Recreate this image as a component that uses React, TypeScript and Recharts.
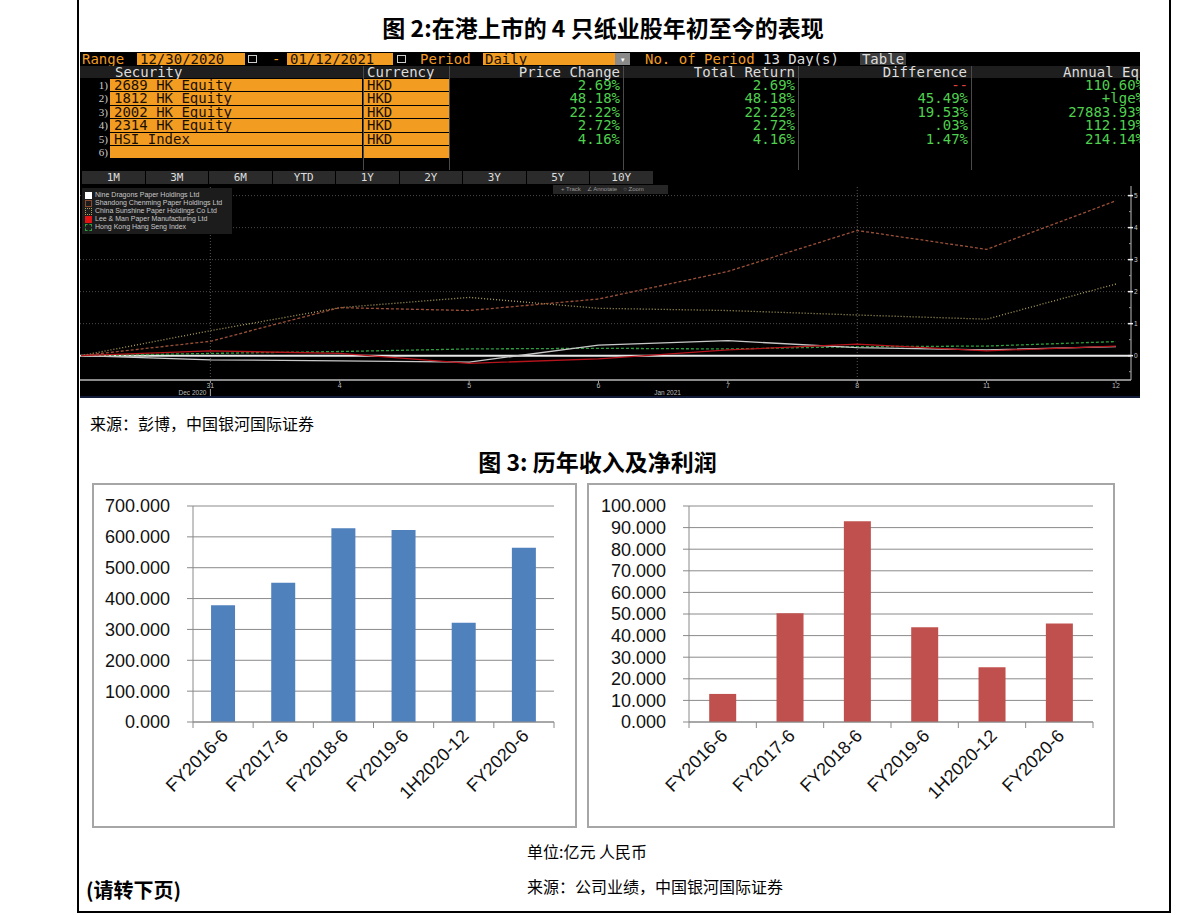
import React from 'react';
import { LineChart, Line, XAxis, YAxis, ReferenceLine, BarChart, Bar, CartesianGrid } from 'recharts';

// ---------- Figure 2 (Bloomberg) data ----------
const bbDates = ['30', '31', '4', '5', '6', '7', '8', '11', '12'];
const nineDragons = [0, -0.13, -0.16, -0.2, 0.33, 0.47, 0.25, 0.18, 0.28];
const shandongChenming = [0, 0.45, 1.5, 1.41, 1.77, 2.63, 3.91, 3.32, 4.84];
const chinaSunshine = [0, 0.78, 1.5, 1.82, 1.48, 1.41, 1.27, 1.14, 2.24];
const leeMan = [0, 0.15, 0.07, -0.24, -0.1, 0.18, 0.36, 0.15, 0.3];
const hangSeng = [0, 0.07, 0.13, 0.21, 0.23, 0.21, 0.28, 0.3, 0.44];
const seriesNames = [
  'Nine Dragons Paper Holdings Ltd',
  'Shandong Chenming Paper Holdings Ltd',
  'China Sunshine Paper Holdings Co Ltd',
  'Lee & Man Paper Manufacturing Ltd',
  'Hong Kong Hang Seng Index',
];
const bbYTicks = [-0.5, 0, 0.5, 1, 1.5, 2, 2.5, 3, 3.5, 4, 4.5, 5];
const bbGridValues = [1, 2, 3, 4, 5];

const securities = ['2689 HK Equity', '1812 HK Equity', '2002 HK Equity', '2314 HK Equity', 'HSI Index', ''];
const currencies = ['HKD', 'HKD', 'HKD', 'HKD', 'HKD', ''];
const priceChange = ['2.69%', '48.18%', '22.22%', '2.72%', '4.16%', ''];
const totalReturn = ['2.69%', '48.18%', '22.22%', '2.72%', '4.16%', ''];
const difference = ['--', '45.49%', '19.53%', '.03%', '1.47%', ''];
const annualEq = ['110.60%', '+lge%', '27883.93%', '112.19%', '214.14%', ''];
const periodTabs = ['1M', '3M', '6M', 'YTD', '1Y', '2Y', '3Y', '5Y', '10Y'];

// ---------- Figure 3 data ----------
const periods = ['FY2016-6', 'FY2017-6', 'FY2018-6', 'FY2019-6', '1H2020-12', 'FY2020-6'];
const revenue = [378, 451, 628, 622, 322, 565];
const netProfit = [13.0, 50.4, 92.9, 43.9, 25.4, 45.6];
const revenueTicks = [0, 100, 200, 300, 400, 500, 600, 700];
const profitTicks = [0, 10, 20, 30, 40, 50, 60, 70, 80, 90, 100];

const bbData = bbDates.map((d, i) => ({
  d,
  nd: nineDragons[i],
  sc: shandongChenming[i],
  cs: chinaSunshine[i],
  lm: leeMan[i],
  hsi: hangSeng[i],
}));
const revData = periods.map((p, i) => ({ p, v: revenue[i] }));
const profitData = periods.map((p, i) => ({ p, v: netProfit[i] }));

const MONO = '"DejaVu Sans Mono", monospace';
const ORANGE = '#f39c22';
const GREEN = '#4fd04f';
const CJK = '"Noto Sans CJK SC", sans-serif';

const BbXTick = (props: any) => {
  const { x, y, payload } = props;
  const v = payload.value;
  if (v === '30') return <g />;
  return (
    <g>
      <line x1={x} x2={x} y1={y} y2={y + 3} stroke="#999" />
      <text x={x} y={y + 8} textAnchor="middle" fontSize={7} fill="#bbb" fontFamily="Liberation Sans">{v}</text>
      {v === '31' && (
        <g>
          <text x={x - 4} y={y + 15} textAnchor="end" fontSize={6.5} fill="#bbb" fontFamily="Liberation Sans">Dec 2020</text>
          <line x1={x} x2={x} y1={y + 9} y2={y + 17} stroke="#aaa" />
        </g>
      )}
      {v === '6' && (
        <text x={x + 69} y={y + 15} textAnchor="middle" fontSize={6.5} fill="#bbb" fontFamily="Liberation Sans">Jan 2021</text>
      )}
    </g>
  );
};

const BbYTick = (props: any) => {
  const { x, y, payload } = props;
  const v = payload.value;
  const major = Number.isInteger(v);
  return (
    <g>
      {major ? (
        <g>
          <line x1={x - 3} x2={x + 2} y1={y} y2={y} stroke="#eee" strokeWidth={1.5} />
          <text x={x + 3} y={y} dy="0.35em" fontSize={6.5} fill="#ccc" fontFamily="Liberation Sans">{v}</text>
        </g>
      ) : (
        <line x1={x - 2} x2={x} y1={y} y2={y} stroke="#999" />
      )}
    </g>
  );
};

const BarXTick = (props: any) => {
  const { x, y, payload, index } = props;
  const off = payload && payload.offset ? payload.offset : 0;
  const tx = x + 6;
  const ty = y + 15;
  return (
    <g>
      <line x1={x - off} x2={x - off} y1={y} y2={y + 6} stroke="#8a8a8a" />
      {index === periods.length - 1 && <line x1={x + off} x2={x + off} y1={y} y2={y + 6} stroke="#8a8a8a" />}
      <text x={tx} y={ty} textAnchor="end" transform={`rotate(-45, ${tx}, ${ty})`} fontSize={18} fontFamily="Liberation Sans" fill="#111">
        {payload.value}
      </text>
    </g>
  );
};

const abs = (l: number, t: number, w?: number, h?: number): React.CSSProperties => ({
  position: 'absolute',
  left: l,
  top: t,
  width: w,
  height: h,
});

const cellText: React.CSSProperties = {
  fontFamily: MONO,
  fontSize: 14,
  lineHeight: '12px',
  whiteSpace: 'nowrap',
};

function BloombergPanel() {
  const rowTop = (i: number) => 27 + i * 13.4;
  const numCols = [
    { l: 371, w: 171, vals: priceChange },
    { l: 544, w: 173, vals: totalReturn },
    { l: 719, w: 171, vals: difference },
    { l: 892, w: 174, vals: annualEq },
  ];
  const seps = [369, 543, 718, 891];
  const legendMarks = [
    { bg: '#fff', border: '1px solid #fff' },
    { bg: 'transparent', border: '1px solid #8c4a30' },
    { bg: 'transparent', border: '1px dotted #b0a25a' },
    { bg: '#e01414', border: '1px solid #e01414' },
    { bg: 'transparent', border: '1px dashed #2f9e3f' },
  ];
  return (
    <div style={{ ...abs(80, 52, 1060, 346), background: '#000', overflow: 'hidden' }}>
      {/* top bar */}
      <div style={{ ...abs(2, 1), ...cellText, color: ORANGE }}>Range</div>
      <div style={{ ...abs(57, 1, 108, 12), background: ORANGE, ...cellText, color: '#1a1000', paddingLeft: 3, boxSizing: 'border-box' }}>12/30/2020</div>
      <div style={{ ...abs(168, 3, 9, 8), border: '1px solid #ccc', boxSizing: 'border-box' }} />
      <div style={{ ...abs(192, 1), ...cellText, color: ORANGE }}>-</div>
      <div style={{ ...abs(207, 1, 106, 12), background: ORANGE, ...cellText, color: '#1a1000', paddingLeft: 3, boxSizing: 'border-box' }}>01/12/2021</div>
      <div style={{ ...abs(317, 3, 9, 8), border: '1px solid #ccc', boxSizing: 'border-box' }} />
      <div style={{ ...abs(340, 1), ...cellText, color: ORANGE }}>Period</div>
      <div style={{ ...abs(403, 1, 132, 12), background: ORANGE, ...cellText, color: '#1a1000', paddingLeft: 2, boxSizing: 'border-box' }}>Daily</div>
      <div style={{ ...abs(535, 1, 15, 12), background: '#8a8a8a', color: '#fff', fontSize: 7, textAlign: 'center', lineHeight: '12px' }}>▾</div>
      <div style={{ ...abs(565, 1), ...cellText, color: ORANGE }}>No. of Period</div>
      <div style={{ ...abs(683, 1), ...cellText, color: '#ddd' }}>13 Day(s)</div>
      <div style={{ ...abs(780, 1, 46, 12), background: '#3c3c3c', ...cellText, color: '#ddd', textAlign: 'center' }}>Table</div>

      {/* header row */}
      <div style={{ ...abs(0, 14, 1060, 12), background: '#1e1e1e' }} />
      <div style={{ ...abs(35, 14), ...cellText, color: '#ddd' }}>Security</div>
      <div style={{ ...abs(287, 14), ...cellText, color: '#ddd' }}>Currency</div>
      <div style={{ ...abs(371, 14, 169), ...cellText, color: '#ddd', textAlign: 'right' }}>Price Change</div>
      <div style={{ ...abs(544, 14, 171), ...cellText, color: '#ddd', textAlign: 'right' }}>Total Return</div>
      <div style={{ ...abs(719, 14, 168), ...cellText, color: '#ddd', textAlign: 'right' }}>Difference</div>
      <div style={{ ...abs(983, 14), ...cellText, color: '#ddd' }}>Annual Eq %</div>
      {seps.map((s, i) => (
        <div key={i} style={{ ...abs(s, 14, 1, 104), background: '#4a4a4a' }} />
      ))}
      <div style={{ ...abs(283, 14, 1, 104), background: '#4a4a4a' }} />

      {/* rows */}
      {securities.map((s, i) => (
        <React.Fragment key={i}>
          <div style={{ ...abs(8, rowTop(i), 20, 12), fontFamily: 'Liberation Serif', fontSize: 11, color: '#ccc', textAlign: 'right', lineHeight: '12px' }}>{i + 1})</div>
          <div style={{ ...abs(30, rowTop(i), 252, 12.4), background: ORANGE, ...cellText, color: '#1a1000', paddingLeft: 4, boxSizing: 'border-box' }}>{s}</div>
          <div style={{ ...abs(284, rowTop(i), 85, 12.4), background: ORANGE, ...cellText, color: '#1a1000', paddingLeft: 3, boxSizing: 'border-box' }}>{currencies[i]}</div>
          {numCols.map((c, j) => (
            <div key={j} style={{ ...abs(c.l, rowTop(i), c.w - 2), ...cellText, color: c.vals[i] === '--' ? '#e04040' : GREEN, textAlign: 'right' }}>
              {c.vals[i]}
            </div>
          ))}
        </React.Fragment>
      ))}

      {/* period tabs */}
      {periodTabs.map((t, i) => (
        <div key={t} style={{ ...abs(2 + i * 63.5, 119, 62.5, 13), background: '#2b2b2b', color: '#ddd', fontFamily: MONO, fontSize: 11, lineHeight: '13px', textAlign: 'center' }}>{t}</div>
      ))}

      {/* chart */}
      <div style={abs(0, 133, 1060, 212)}>
        <LineChart width={1060} height={212} data={bbData} margin={{ top: 1, right: 0, bottom: 0, left: 0 }}>
          <XAxis
            dataKey="d"
            height={17}
            interval={0}
            padding={{ left: 1, right: 15 }}
            axisLine={{ stroke: '#8a8a8a', strokeWidth: 2 }}
            tickLine={false}
            tickSize={0}
            tickMargin={0}
            tick={(p: any) => <BbXTick {...p} />}
          />
          <YAxis
            orientation="right"
            width={9}
            type="number"
            domain={[-0.76, 5.3]}
            ticks={bbYTicks}
            interval={0}
            allowDataOverflow
            axisLine={{ stroke: '#bbb' }}
            tickLine={false}
            tickSize={0}
            tickMargin={0}
            tick={(p: any) => <BbYTick {...p} />}
          />
          {bbGridValues.map((g) => (
            <ReferenceLine key={g} y={g} stroke="#4a4a4a" strokeDasharray="1 2" />
          ))}
          <ReferenceLine x="31" stroke="#555" strokeDasharray="1 2" />
          <ReferenceLine x="8" stroke="#555" strokeDasharray="1 2" />
          <ReferenceLine y={0} stroke="#e8e8e8" strokeWidth={2} />
          <Line type="linear" dataKey="hsi" stroke="#2f9e3f" strokeDasharray="3 2" strokeWidth={1.3} dot={false} isAnimationActive={false} />
          <Line type="linear" dataKey="cs" stroke="#b0a25a" strokeDasharray="1 2" strokeWidth={1.3} dot={false} isAnimationActive={false} />
          <Line type="linear" dataKey="sc" stroke="#9a5038" strokeDasharray="3 2" strokeWidth={1.3} dot={false} isAnimationActive={false} />
          <Line type="linear" dataKey="nd" stroke="#c8c8c8" strokeWidth={1.3} dot={false} isAnimationActive={false} />
          <Line type="linear" dataKey="lm" stroke="#b8141c" strokeWidth={1.3} dot={false} isAnimationActive={false} />
        </LineChart>
      </div>

      {/* legend */}
      <div style={{ ...abs(2, 136, 150, 46), background: '#1c1c1c' }}>
        {seriesNames.map((n, i) => (
          <div key={n} style={{ ...abs(3, 3 + i * 8, 146, 8), fontFamily: 'Liberation Sans', fontSize: 7, color: '#c8c8c8', lineHeight: '8px', whiteSpace: 'nowrap' }}>
            <span style={{ display: 'inline-block', width: 5, height: 5, background: legendMarks[i].bg, border: legendMarks[i].border, marginRight: 3, verticalAlign: 'middle' }} />
            {n}
          </div>
        ))}
      </div>

      {/* toolbar */}
      <div style={{ ...abs(473, 133, 115, 9), background: '#262626', fontFamily: 'Liberation Sans', fontSize: 6, color: '#999', lineHeight: '9px', whiteSpace: 'nowrap' }}>
        <span style={{ marginLeft: 8 }}>+ Track</span>
        <span style={{ marginLeft: 6 }}>∠ Annotate</span>
        <span style={{ marginLeft: 6 }}>○ Zoom</span>
      </div>

      <div style={{ ...abs(0, 344, 1060, 2), background: '#101c3a' }} />
    </div>
  );
}

function RevenueChart() {
  return (
    <BarChart width={485} height={345} data={revData} margin={{ top: 23, right: 23, bottom: 0, left: 0 }} barCategoryGap="30%">
      <CartesianGrid vertical={false} stroke="#8a8a8a" />
      <XAxis dataKey="p" height={106} interval={0} axisLine={{ stroke: '#8a8a8a' }} tickLine={false} tickSize={0} tickMargin={0} tick={(p: any) => <BarXTick {...p} />} />
      <YAxis
        width={101}
        domain={[0, 700]}
        ticks={revenueTicks}
        interval={0}
        tickFormatter={(v: number) => v.toFixed(3)}
        axisLine={{ stroke: '#8a8a8a' }}
        tickLine={{ stroke: '#8a8a8a' }}
        tickSize={6}
        tickMargin={17}
        tick={{ fontSize: 18, fill: '#111', fontFamily: 'Liberation Sans' }}
      />
      <Bar dataKey="v" fill="#4f81bd" isAnimationActive={false} />
    </BarChart>
  );
}

function ProfitChart() {
  return (
    <BarChart width={528} height={345} data={profitData} margin={{ top: 23, right: 22, bottom: 0, left: 0 }} barCategoryGap="30%">
      <CartesianGrid vertical={false} stroke="#8a8a8a" />
      <XAxis dataKey="p" height={106} interval={0} axisLine={{ stroke: '#8a8a8a' }} tickLine={false} tickSize={0} tickMargin={0} tick={(p: any) => <BarXTick {...p} />} />
      <YAxis
        width={102}
        domain={[0, 100]}
        ticks={profitTicks}
        interval={0}
        tickFormatter={(v: number) => v.toFixed(3)}
        axisLine={{ stroke: '#8a8a8a' }}
        tickLine={{ stroke: '#8a8a8a' }}
        tickSize={6}
        tickMargin={17}
        tick={{ fontSize: 18, fill: '#111', fontFamily: 'Liberation Sans' }}
      />
      <Bar dataKey="v" fill="#c0504d" isAnimationActive={false} />
    </BarChart>
  );
}

export default function App() {
  return (
    <div style={{ position: 'absolute', left: 0, top: 0, width: 1191, height: 915, background: '#fff', overflow: 'hidden', fontFamily: CJK }}>
      {/* page borders */}
      <div style={{ ...abs(77, 0, 2, 913), background: '#000' }} />
      <div style={{ ...abs(1169, 0, 2, 913), background: '#000' }} />
      <div style={{ ...abs(77, 911, 1094, 2), background: '#000' }} />

      <div style={{ ...abs(80, 13, 1046), textAlign: 'center', fontSize: 23, fontWeight: 700, lineHeight: '28px', color: '#000' }}>
        图 2:在港上市的 4 只纸业股年初至今的表现
      </div>

      <BloombergPanel />

      <div style={{ ...abs(90, 412), fontSize: 16, lineHeight: '22px', color: '#000' }}>来源：彭博，中国银河国际证券</div>

      <div style={{ ...abs(80, 447, 1035), textAlign: 'center', fontSize: 23, fontWeight: 700, lineHeight: '28px', color: '#000' }}>
        图 3: 历年收入及净利润
      </div>

      <div style={{ ...abs(92, 483, 485, 345), border: '2px solid #a6a6a6', boxSizing: 'border-box' }} />
      <div style={abs(92, 483, 485, 345)}>
        <RevenueChart />
      </div>

      <div style={{ ...abs(587, 483, 528, 345), border: '2px solid #a6a6a6', boxSizing: 'border-box' }} />
      <div style={abs(587, 483, 528, 345)}>
        <ProfitChart />
      </div>

      <div style={{ ...abs(527, 840), fontSize: 16, lineHeight: '22px', color: '#000' }}>单位:亿元 人民币</div>
      <div style={{ ...abs(527, 875), fontSize: 16, lineHeight: '22px', color: '#000' }}>来源：公司业绩，中国银河国际证券</div>
      <div style={{ ...abs(86, 878), fontSize: 20, fontWeight: 700, lineHeight: '24px', color: '#000' }}>(请转下页)</div>
    </div>
  );
}
